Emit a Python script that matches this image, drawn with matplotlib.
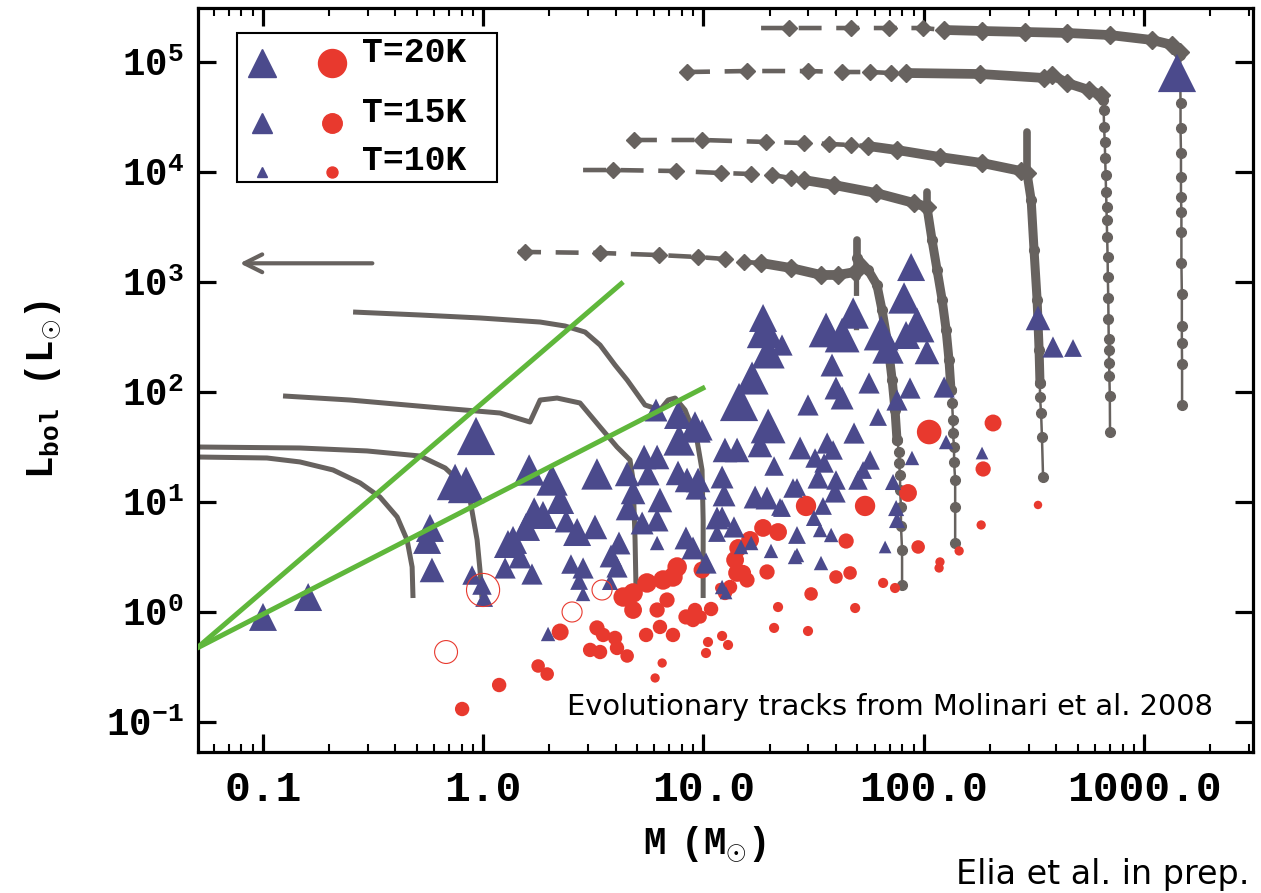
#!/usr/bin/env python3
import numpy as np
import matplotlib
matplotlib.use("Agg")
import matplotlib.pyplot as plt
from matplotlib import font_manager
from matplotlib.lines import Line2D
from matplotlib.patches import Rectangle
from matplotlib.ticker import FixedFormatter, FixedLocator, LogLocator, NullFormatter, NullLocator

TRI_COLOR = "#4b4a8c"
RED = "#e8392e"
GRAY = "#67625f"
GREEN = "#5fb73b"
MONO = "Liberation Mono"

plt.rcParams["mathtext.fontset"] = "custom"
plt.rcParams["mathtext.rm"] = MONO
plt.rcParams["mathtext.bf"] = MONO + ":bold"
plt.rcParams["mathtext.it"] = MONO + ":italic"

# ---- clumps with protostellar counterpart (triangles): log10 M, log10 L, T [K]
tri_logm = [-0.999, -0.794, -0.241, -0.254, -0.232, -0.032, -0.127, -0.077, -0.05, -0.005,
            0.005, 0.1, 0.113, 0.136, 0.168, 0.195, 0.209, 0.313, 0.232, 0.272,
            0.35, 0.377, 0.427, 0.508, 0.222, 0.399, 0.454, 0.436, 0.454, 0.517,
            0.785, 0.885, 0.962, 0.89, 0.654, 0.731, 0.79, 0.749, 0.885, 0.926,
            0.976, 0.967, 0.681, 0.658, 0.803, 0.722, 0.79, 0.617, 0.581, 0.608,
            0.576, 0.79, 0.921, 0.953, 1.012, 0.295, 1.085, 1.103, 1.171, 1.217,
            1.307, 1.425, 1.425, 1.062, 1.085, 1.062, 1.139, 1.094, 1.235, 1.289,
            1.348, 1.425, 1.085, 1.098, 1.153, 1.257, 1.321, 1.439, 1.294, 1.162,
            1.221, 1.294, 1.28, 1.271, 0.994, 1.557, 1.63, 1.68, 1.807, 1.838,
            1.943, 1.911, 1.97, 1.92, 2.015, 1.584, 1.602, 1.63, 1.752, 1.475,
            1.684, 1.793, 1.879, 1.938, 2.093, 1.357, 1.507, 1.548, 1.562, 1.589,
            1.407, 1.357, 1.502, 1.543, 1.53, 1.58, 1.416, 1.534, 1.702, 1.757,
            1.602, 1.521, 1.725, 1.825, 1.875, 1.879, 1.947, 2.102, 2.265, 1.861,
            2.519, 2.587, 2.678, 3.15, 1.598]
tri_logl = [-0.045, 0.136, 0.764, 0.655, 0.382, 1.6, 1.182, 1.155, 0.336, 0.245,
            0.127, 0.4, 0.618, 0.655, 0.5, 0.773, 1.291, 1.2, 0.9, 0.882,
            1.018, 0.827, 0.727, 0.773, 0.345, 0.436, 0.4, 0.282, 0.164, 1.255,
            1.836, 1.791, 1.682, 1.564, 1.255, 1.409, 1.409, 1.255, 1.264, 1.2,
            1.2, 1.118, 1.091, 0.945, 1.018, 0.809, 0.836, 0.627, 0.509, 0.409,
            0.273, 0.627, 0.673, 0.582, 0.445, -0.2, 0.227, 0.173, 0.591, 0.627,
            0.555, 0.518, 0.7, 0.855, 0.864, 0.718, 0.773, 1.064, 1.045, 1.036,
            0.955, 1.136, 1.227, 1.473, 1.473, 1.518, 1.327, 1.491, 1.691, 1.909,
            2.127, 2.364, 2.564, 2.673, 1.655, 2.564, 2.518, 2.718, 2.536, 2.4,
            3.136, 2.855, 2.609, 2.518, 2.364, 2.245, 2.036, 1.945, 2.082, 1.882,
            1.627, 1.773, 1.927, 2.036, 2.045, 2.427, 1.4, 1.355, 1.536, 1.473,
            1.127, 0.945, 0.855, 0.964, 0.745, 0.7, 0.5, 0.445, 1.2, 1.382,
            1.2, 1.218, 1.291, 0.591, 0.945, 0.836, 1.4, 1.545, 1.445, 1.182,
            2.673, 2.409, 2.4, 4.9, 1.091]
tri_temp = [20, 20, 20, 20, 18, 26, 25, 25, 15, 15,
            14, 16, 20, 20, 17, 20, 22, 22, 22, 20,
            20, 17, 20, 18, 16, 15, 16, 14, 12, 22,
            17, 20, 22, 22, 18, 18, 18, 17, 18, 18,
            18, 16, 18, 18, 18, 17, 17, 17, 17, 16,
            13, 12, 17, 17, 16, 12, 12, 11, 12, 12,
            12, 12, 14, 17, 16, 14, 16, 17, 17, 17,
            14, 14, 17, 18, 18, 18, 15, 17, 24, 26,
            23, 23, 25, 20, 16, 24, 24, 22, 24, 22,
            20, 22, 24, 20, 18, 17, 17, 17, 16, 16,
            16, 14, 16, 16, 16, 16, 15, 15, 16, 15,
            15, 14, 13, 14, 12, 12, 12, 12, 15, 15,
            15, 16, 14, 11, 13, 13, 12, 12, 11, 13,
            18, 16, 14, 26, 16]

# ---- starless clumps (filled circles)
cir_logm = [-0.095, 0.073, 0.25, 0.291, 0.35, 0.517, 0.545, 0.486, 0.531, 0.599,
            0.608, 0.654, 0.636, 0.681, 0.681, 0.744, 0.817, 0.881, 0.862, 0.79,
            0.835, 0.803, 0.74, 0.862, 0.921, 0.962, 0.953, 1.035, 0.985, 0.994,
            1.076, 1.121, 1.144, 1.153, 1.18, 1.198, 1.098, 1.158, 1.212, 1.271,
            1.339, 1.289, 1.466, 1.734, 1.339, 1.321, 1.021, 1.012, 1.085, 1.112,
            0.813, 0.781, 1.929, 2.27, 1.648, 1.602, 1.666, 1.489, 1.689, 1.475,
            1.816, 1.87, 1.975, 2.074, 2.07, 2.161, 2.261, 2.025, 2.315, 2.519]
cir_logl = [-0.882, -0.664, -0.491, -0.564, -0.182, -0.145, -0.209, -0.345, -0.364, -0.236,
            -0.327, -0.4, 0.136, 0.173, 0.018, 0.264, 0.291, 0.409, 0.318, 0.018,
            0.109, -0.136, -0.209, -0.209, -0.045, 0.018, -0.073, 0.027, -0.045, 0.382,
            0.218, 0.227, 0.473, 0.355, 0.355, 0.291, 0.173, 0.582, 0.655, 0.764,
            0.727, 0.364, 0.964, 0.964, 0.045, -0.145, -0.273, -0.373, -0.218, -0.3,
            -0.464, -0.6, 1.082, 1.3, 0.645, 0.318, 0.355, 0.164, 0.036, -0.173,
            0.264, 0.218, 0.591, 0.455, 0.4, 0.555, 0.791, 1.636, 1.718, 0.973]
cir_temp = [12, 12, 11.5, 11.5, 13.5, 12.5, 12, 12, 12, 12,
            12, 11.5, 15, 15, 14, 15, 15, 15, 15, 12.5,
            12.5, 12, 12, 12, 12.5, 12, 12, 12, 11.5, 13.5,
            9.5, 12, 14, 14, 13, 12.5, 12, 14, 14, 14,
            14, 12.5, 15.5, 15.5, 9.5, 9.5, 9.5, 9.5, 9.5, 9.5,
            9, 9, 14, 12.5, 12.5, 11.5, 11.5, 11.5, 9.5, 9.5,
            9.5, 9.5, 11.5, 9, 9, 9, 9, 18, 13.5, 8.5]

# ---- open circles
open_logm = [0.0, 0.404, 0.54, -0.168]
open_logl = [0.2, 0.0, 0.2, -0.364]
open_temp = [23, 15.3, 15.3, 17]

# ---- low-mass evolutionary tracks (solid lines)
lowmass_tracks = [
    ([-1.3, -0.981, -0.831, -0.681, -0.558, -0.468, -0.39, -0.345, -0.322, -0.318],
     [1.409, 1.4, 1.364, 1.291, 1.173, 1.045, 0.864, 0.655, 0.409, 0.127]),
    ([-1.3, -0.831, -0.527, -0.286, -0.172, -0.104, -0.059, -0.027, -0.014, -0.005],
     [1.5, 1.491, 1.464, 1.418, 1.309, 1.182, 1.018, 0.655, 0.382, 0.127]),
    ([-0.908, -0.604, -0.195, 0.077, 0.213, 0.259, 0.336, 0.44, 0.531, 0.608, 0.667, 0.681, 0.69, 0.695],
     [1.964, 1.927, 1.855, 1.809, 1.727, 1.927, 1.945, 1.9, 1.682, 1.5, 1.382, 1.2, 0.655, 0.136]),
    ([-0.59, -0.286, -0.014, 0.259, 0.372, 0.463, 0.531, 0.599, 0.654, 0.735, 0.803, 0.84, 0.872,
      0.917, 0.971, 0.994, 0.999, 0.999],
     [2.727, 2.7, 2.673, 2.636, 2.6, 2.545, 2.427, 2.245, 2.109, 1.882, 1.836, 1.927, 1.945,
      1.836, 1.564, 1.291, 0.836, 0.127]),
]

# ---- high-mass tracks: envelope clean-up (diamonds), sparse and dense parts
cleanup_sparse = [
    ([1.262, 1.389, 1.67, 1.843, 1.997, 2.093], [5.309, 5.309, 5.309, 5.309, 5.309, 5.291]),
    ([0.926, 1.198, 1.475, 1.63, 1.757, 1.852, 1.92], [4.909, 4.918, 4.918, 4.909, 4.909, 4.9, 4.9]),
    ([0.685, 0.994, 1.285, 1.457, 1.571, 1.67, 1.748], [4.291, 4.291, 4.273, 4.264, 4.255, 4.245, 4.236]),
    ([0.454, 0.59, 0.876, 1.08, 1.217, 1.312, 1.398, 1.457], [4.018, 4.018, 4.009, 3.991, 3.982, 3.973, 3.945, 3.927]),
    ([0.159, 0.191, 0.531, 0.799, 0.976, 1.099, 1.185, 1.262], [3.273, 3.273, 3.264, 3.245, 3.227, 3.209, 3.182, 3.173]),
]
cleanup_lead_dash = [True, False, False, True, True]
cleanup_dense = [
    ([2.093, 2.265, 2.46, 2.651, 2.846, 3.037, 3.128, 3.164], [5.291, 5.282, 5.273, 5.264, 5.245, 5.2, 5.155, 5.091]),
    ([1.92, 2.256, 2.547, 2.583, 2.651, 2.751, 2.805], [4.9, 4.891, 4.855, 4.882, 4.809, 4.745, 4.7]),
    ([1.748, 1.879, 2.074, 2.265, 2.442, 2.469], [4.236, 4.2, 4.136, 4.082, 4.009, 3.991]),
    ([1.457, 1.593, 1.784, 1.956, 2.015], [3.927, 3.882, 3.809, 3.718, 3.682]),
    ([1.262, 1.398, 1.534, 1.611, 1.689], [3.173, 3.127, 3.064, 3.064, 3.091]),
]
spike_logm = [2.469, 2.015, 1.698]
spike_logl_lo = [3.991, 3.682, 3.045]
spike_logl_hi = [4.364, 3.818, 3.382]

# ---- high-mass tracks: accretion phase (dots)
accretion_dense = [
    ([2.469, 2.488, 2.501, 2.515, 2.524, 2.528], [3.991, 3.745, 3.291, 2.836, 2.382, 2.082]),
    ([2.015, 2.038, 2.061, 2.084, 2.102, 2.115, 2.124], [3.682, 3.382, 3.109, 2.836, 2.564, 2.291, 2.018]),
    ([1.698, 1.748, 1.788, 1.811, 1.838, 1.857, 1.87, 1.879], [3.218, 3.109, 2.973, 2.745, 2.427, 2.109, 1.836, 1.564]),
]
accretion_sparse = [
    ([3.164, 3.164, 3.166, 3.166, 3.168, 3.168, 3.168, 3.17, 3.17, 3.17, 3.172, 3.172, 3.172, 3.173, 3.173],
     [5.091, 5.064, 4.627, 4.4, 4.173, 3.955, 3.773, 3.636, 3.455, 3.173, 2.891, 2.6, 2.445, 2.255, 1.882]),
    ([2.805, 2.814, 2.817, 2.819, 2.822, 2.824, 2.826, 2.828, 2.83, 2.831, 2.833, 2.835, 2.836, 2.838,
      2.839, 2.84, 2.841, 2.842, 2.843, 2.845, 2.846],
     [4.7, 4.655, 4.564, 4.409, 4.273, 4.127, 3.973, 3.818, 3.682, 3.564, 3.409, 3.227, 3.045, 2.855,
      2.664, 2.482, 2.382, 2.264, 2.145, 1.964, 1.636]),
    ([2.528, 2.528, 2.533, 2.537, 2.542], [2.082, 1.955, 1.809, 1.591, 1.227]),
    ([2.124, 2.129, 2.133, 2.133, 2.138, 2.138, 2.143, 2.143, 2.143],
     [2.018, 1.9, 1.745, 1.627, 1.5, 1.364, 1.2, 0.955, 0.627]),
    ([1.879, 1.888, 1.888, 1.893, 1.893, 1.897, 1.897, 1.902, 1.902],
     [1.564, 1.455, 1.355, 1.245, 1.109, 0.955, 0.782, 0.564, 0.245]),
]
side_dash_logm = [1.693, 1.693]
side_dash_logl = [3.382, 2.536]

# ---- L/M reference lines and arrow
green_lines = [([-1.3, 0.636], [-0.33, 3.0]), ([-1.3, 1.008], [-0.33, 2.045])]
arrow_logm = [-0.49, -1.117]
arrow_logl = 3.17

xtick_vals = [0.1, 1.0, 10.0, 100.0, 1000.0]
xtick_text = ["0.1", "1.0", "10.0", "100.0", "1000.0"]
ytick_pow = [-1, 0, 1, 2, 3, 4, 5]

legend_temps = [20, 15, 10]
legend_text = ["T=20K", "T=15K", "T=10K"]


def ms_pt(temp):
    return (1.7 * np.asarray(temp, dtype=float) - 6.0) / 1.389


def p10(v):
    return 10 ** np.asarray(v, dtype=float)


fig = plt.figure(figsize=(12.61, 8.93), dpi=100)
ax = fig.add_axes([0.15702, 0.15789, 0.83664, 0.83315])
ax.set_xscale("log")
ax.set_yscale("log")
ax.set_xlim(10 ** -1.294, 10 ** 3.495)
ax.set_ylim(10 ** -1.273, 10 ** 5.491)

# tracks
for lm, ll in lowmass_tracks:
    ax.plot(p10(lm), p10(ll), color=GRAY, lw=3.6, zorder=2, solid_capstyle="butt")

for (lm, ll), lead in zip(cleanup_sparse, cleanup_lead_dash):
    ax.plot(p10(lm), p10(ll), color=GRAY, lw=3.3, dashes=(5, 3.2), marker="D", ms=8.5,
            markevery=slice(1 if lead else 0, None), zorder=2)
for lm, ll in cleanup_dense:
    ax.plot(p10(lm), p10(ll), color=GRAY, lw=7, marker="D", ms=9, zorder=2,
            solid_joinstyle="round", solid_capstyle="round")
for m, lo, hi in zip(spike_logm, spike_logl_lo, spike_logl_hi):
    ax.plot(p10([m, m]), p10([lo, hi]), color=GRAY, lw=5.5, zorder=2, solid_capstyle="round")
ax.plot(p10(side_dash_logm), p10(side_dash_logl), color=GRAY, lw=3.8, dashes=(4, 2.5), zorder=2)

for lm, ll in accretion_dense:
    ax.plot(p10(lm), p10(ll), color=GRAY, lw=6.5, marker="o", ms=7, zorder=2,
            solid_joinstyle="round", solid_capstyle="round")
for lm, ll in accretion_sparse:
    ax.plot(p10(lm), p10(ll), color=GRAY, lw=1.8, marker="o", ms=7, zorder=2)

# clumps
ax.scatter(p10(cir_logm), p10(cir_logl), s=ms_pt(cir_temp) ** 2, marker="o",
           color=RED, linewidths=0, zorder=3)
ax.scatter(p10(tri_logm), p10(tri_logl), s=ms_pt(tri_temp) ** 2, marker="^",
           color=TRI_COLOR, linewidths=0, zorder=4)
ax.scatter(p10(open_logm), p10(open_logl), s=ms_pt(open_temp) ** 2, marker="o",
           facecolors="none", edgecolors=RED, linewidths=0.8, zorder=6)

for lm, ll in green_lines:
    ax.plot(p10(lm), p10(ll), color=GREEN, lw=3.6, zorder=5, solid_capstyle="butt")

ax.annotate("", xy=(p10(arrow_logm[1]), p10(arrow_logl)), xytext=(p10(arrow_logm[0]), p10(arrow_logl)),
            arrowprops=dict(arrowstyle="->", lw=3, color=GRAY, mutation_scale=32), zorder=5)

# axes styling
for sp in ax.spines.values():
    sp.set_linewidth(2.3)
ax.xaxis.set_major_locator(FixedLocator(xtick_vals))
ax.xaxis.set_major_formatter(FixedFormatter(xtick_text))
ax.xaxis.set_minor_locator(LogLocator(base=10, subs=np.arange(2, 10)))
ax.xaxis.set_minor_formatter(NullFormatter())
ax.yaxis.set_major_locator(FixedLocator([10.0 ** p for p in ytick_pow]))
ax.yaxis.set_major_formatter(FixedFormatter([r"$\mathbf{10^{%d}}$" % p for p in ytick_pow]))
ax.yaxis.set_minor_locator(NullLocator())
ax.tick_params(which="both", direction="in", top=True, right=True)
ax.tick_params(which="major", length=13, width=2.3)
ax.tick_params(which="minor", length=6, width=1.5)
ax.tick_params(axis="x", which="major", pad=13)
ax.tick_params(axis="y", which="major", pad=10, labelsize=27)
for lab in ax.get_xticklabels():
    lab.set_fontfamily(MONO)
    lab.set_fontweight("bold")
    lab.set_fontsize(31)

ax.set_xlabel(r"$\mathbf{M\ \ (M_{\odot})}$", fontsize=27)
ax.xaxis.set_label_coords(0.48, -0.098)
ax.xaxis.label.set_va("top")
ax.set_ylabel(r"$\mathbf{L_{bol}\ \ \ (L_{\odot})}$", fontsize=27)
ax.yaxis.set_label_coords(-0.128, 0.487)

# legend drawn by hand inside the axes
ax.add_patch(Rectangle((0.037, 0.766), 0.2464, 0.2004, transform=ax.transAxes, fill=False,
                       edgecolor="black", lw=1.5, zorder=7))
leg_marker_y = [0.926, 0.8454, 0.7796]
leg_text_y = [0.9274, 0.8468, 0.7823]
for t, lbl, my, ty in zip(legend_temps, legend_text, leg_marker_y, leg_text_y):
    ax.add_line(Line2D([0.0607], [my], transform=ax.transAxes, marker="^", ms=float(ms_pt(t)),
                       color=TRI_COLOR, lw=0, zorder=8))
    ax.add_line(Line2D([0.127], [my], transform=ax.transAxes, marker="o", ms=float(ms_pt(t)),
                       color=RED, lw=0, zorder=8))
    ax.text(0.1555, ty, lbl, transform=ax.transAxes, fontfamily=MONO, fontweight="bold",
            fontsize=25, va="baseline", ha="left", zorder=8)

ax.text(0.962, 0.05, "Evolutionary tracks from Molinari et al. 2008", transform=ax.transAxes,
        fontfamily="DejaVu Sans", fontsize=20.8, ha="right", va="baseline", zorder=8)

names = {f.name for f in font_manager.fontManager.ttflist}
if "Liberation Sans Narrow" in names:
    elia_family, elia_size = "Liberation Sans Narrow", 28
else:
    elia_family, elia_size = "DejaVu Sans", 24
fig.text(0.991, 0.01, "Elia et al. in prep.", fontfamily=elia_family, fontsize=elia_size,
         ha="right", va="baseline")

fig.savefig("out.png", dpi=100)
